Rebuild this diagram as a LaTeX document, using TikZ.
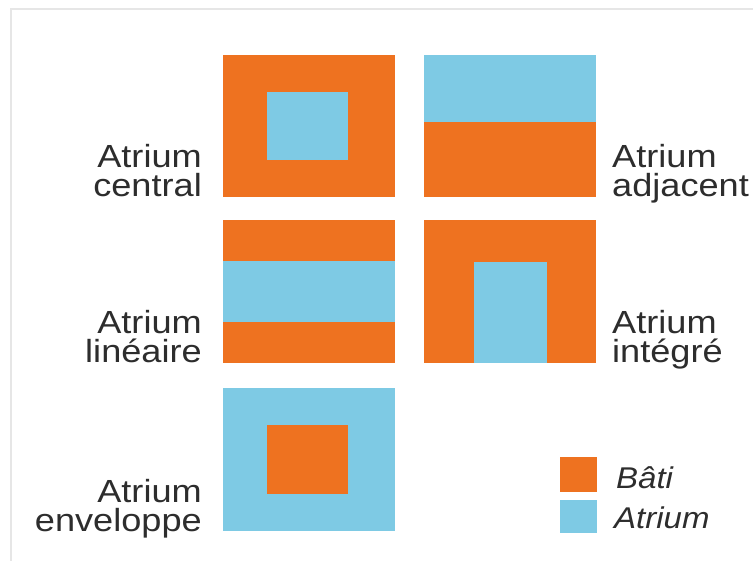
\documentclass[tikz,border=0pt]{standalone}
\usepackage{fontspec}
\usepackage{graphicx}
\setmainfont{Liberation Sans}
\definecolor{bati}{RGB}{238,114,32}
\definecolor{atr}{RGB}{126,202,228}
\definecolor{txt}{RGB}{45,45,45}
\definecolor{frame}{RGB}{230,230,230}
\newcommand{\widetxt}[1]{\scalebox{1.13}[1]{#1}}
\begin{document}
\begin{tikzpicture}[x=1pt,y=-1pt,
  lbl/.style={font=\fontsize{32}{29}\selectfont, text=txt, inner sep=0pt},
  leg/.style={font=\fontsize{30}{29}\selectfont\itshape, text=txt, inner sep=0pt},
  batifill/.style={fill=bati},
  atrfill/.style={fill=atr}]
\useasboundingbox (0,0) rectangle (753,561);
\fill[white] (0,0) rectangle (753,561);
% frame lines
\draw[frame, line width=1.6pt] (11,561) -- (11,9) -- (753,9);
% central
\fill[batifill] (223,55) rectangle (395,197);
\fill[atrfill] (267,92) rectangle (348,160);
% adjacent
\fill[atrfill] (424,55) rectangle (596,122);
\fill[batifill] (424,122) rectangle (596,197);
% lineaire
\fill[batifill] (223,220) rectangle (395,261);
\fill[atrfill] (223,261) rectangle (395,322);
\fill[batifill] (223,322) rectangle (395,363);
% integre
\fill[batifill] (424,220) rectangle (596,363);
\fill[atrfill] (474,262) rectangle (547,363);
% enveloppe
\fill[atrfill] (223,388) rectangle (395,531);
\fill[batifill] (267,425) rectangle (348,494);
% legend
\fill[batifill] (560,457) rectangle (597,492);
\fill[atrfill] (560,500) rectangle (597,533);
% labels
\node[lbl, anchor=base east] (c1) at (202,168) {\widetxt{Atrium}};
\node[lbl, anchor=base east] (c2) at (202,197) {\widetxt{central}};
\node[lbl, anchor=base west] (a1) at (612,168) {\widetxt{Atrium}};
\node[lbl, anchor=base west] (a2) at (612,197) {\widetxt{adjacent}};
\node[lbl, anchor=base east] (l1) at (202,334) {\widetxt{Atrium}};
\node[lbl, anchor=base east] (l2) at (202,363) {\widetxt{linéaire}};
\node[lbl, anchor=base west] (i1) at (612,334) {\widetxt{Atrium}};
\node[lbl, anchor=base west] (i2) at (612,363) {\widetxt{intégré}};
\node[lbl, anchor=base east] (e1) at (202,502) {\widetxt{Atrium}};
\node[lbl, anchor=base east] (e2) at (202,531) {\widetxt{enveloppe}};
\node[leg, anchor=base west] (lb) at (616,488) {\scalebox{1.1}[1]{Bâti}};
\node[leg, anchor=base west] (la) at (614,528) {\scalebox{1.1}[1]{Atrium}};
\end{tikzpicture}
\end{document}
